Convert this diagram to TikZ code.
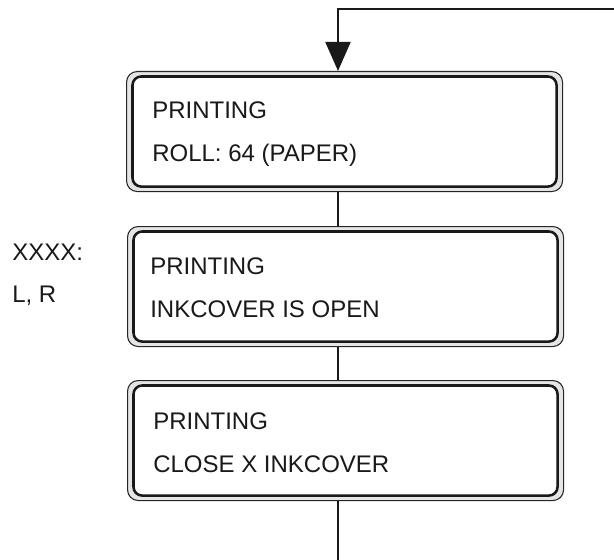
\documentclass[tikz,border=0pt]{standalone}
\usepackage{fontspec}
\setmainfont{Liberation Sans}
\usetikzlibrary{arrows.meta}
\begin{document}
\begin{tikzpicture}[x=0.75pt,y=-0.75pt,
  outerbox/.style={draw=black!85,line width=0.8pt,fill=black!10,rounded corners=8pt,
    minimum width=436*0.75pt,minimum height=120*0.75pt,inner sep=0pt,anchor=north west},
  innerbox/.style={draw=black!90,line width=1.9pt,fill=white,rounded corners=6.5pt},
  txt/.style={font=\fontsize{18pt}{20pt}\selectfont,anchor=base west,inner sep=0pt,text=black!90},
  conn/.style={draw=black!90,line width=1.4pt}]
\useasboundingbox (0,0) rectangle (614,560);
\coordinate (c) at (338,0);
\coordinate (tr) at (614,9);
\coordinate (bt) at (338,560);
% boxes
\node[outerbox] (b1) at (126,71) {};
\node[outerbox] (b2) at (127,226) {};
\node[outerbox] (b3) at (127,380) {};
\foreach \b in {b1,b2,b3}{
  \draw[innerbox] ([shift={(6.5,5.5)}]\b.north west) rectangle ([shift={(-6.5,-5.5)}]\b.south east);
}
% texts
\node[txt] (t1a) at (152,118) {PRINTING};
\node[txt] (t1b) at (152,161) {ROLL: 64 (PAPER)};
\node[txt] (t2a) at (150,274) {PRINTING};
\node[txt] (t2b) at (150,317) {INKCOVER IS OPEN};
\node[txt] (t3a) at (153,429) {PRINTING};
\node[txt] (t3b) at (153,472) {CLOSE X INKCOVER};
\node[txt] (xa) at (12,260) {XXXX:};
\node[txt] (xb) at (12,302) {L, R};
% connectors
\draw[conn,-{Triangle[width=25*0.75pt,length=29*0.75pt]}] (tr) -- (c |- tr) -- (c |- b1.north);
\draw[conn] (c |- b1.south) -- (c |- b2.north);
\draw[conn] (c |- b2.south) -- (c |- b3.north);
\draw[conn] (c |- b3.south) -- (bt);
\end{tikzpicture}
\end{document}
